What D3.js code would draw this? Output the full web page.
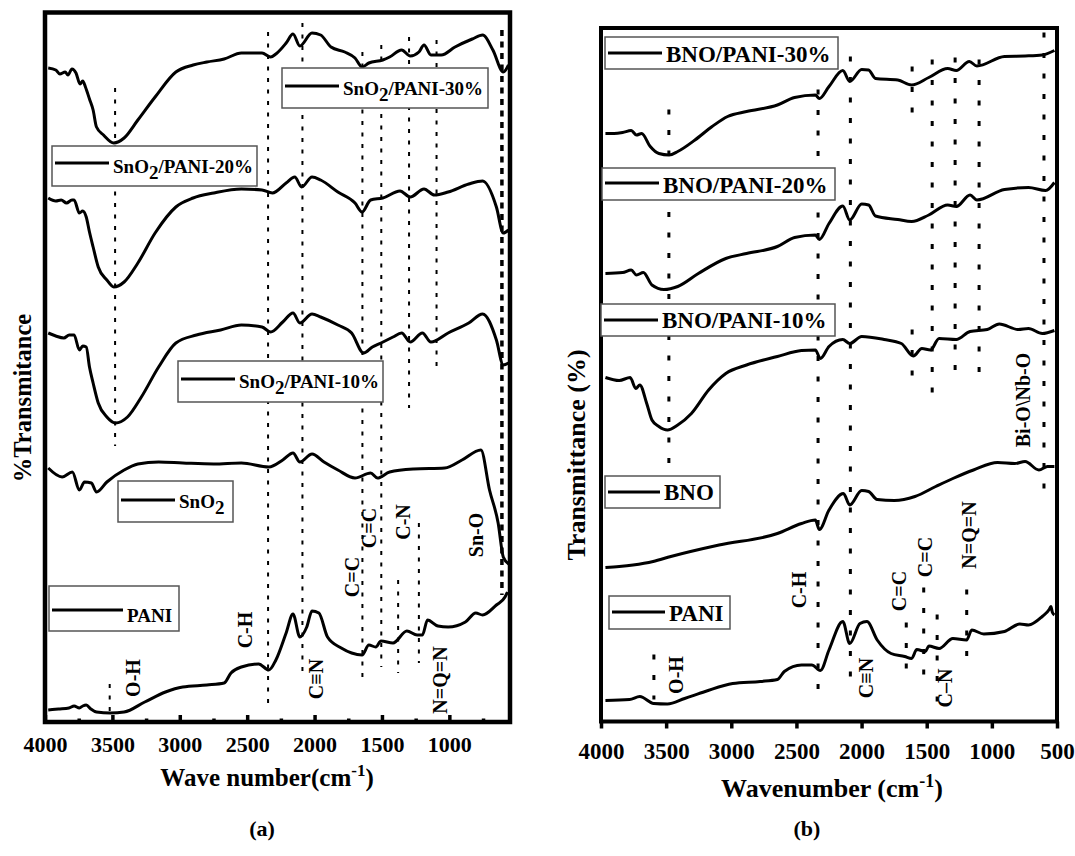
<!DOCTYPE html>
<html>
<head>
<meta charset="utf-8">
<script src="https://cdn.jsdelivr.net/npm/d3@7"></script>
<style>
body{margin:0;background:#fff}
text{font-family:"Liberation Serif","Times New Roman",serif;font-weight:bold;fill:#000}
</style>
</head>
<body>
<script>
// ---- panel (a) spectra: [wavenumber cm-1, transmittance (a.u., stacked)] ----
const snoPani30 = [[3976,65.4],[3920,65.2],[3890,64.8],[3850,65.0],[3830,64.7],[3800,65.3],[3770,64.9],[3740,63.8],[3720,64.1],[3700,63.5],[3670,62.3],[3643,61.2],[3618,59.5],[3566,58.7],[3490,57.9],[3413,58.4],[3311,60.2],[3183,62.5],[3029,65.0],[2901,65.7],[2799,66.0],[2671,66.3],[2543,66.9],[2390,66.9],[2326,66.5],[2287,66.8],[2211,67.9],[2160,68.8],[2109,67.6],[2019,68.9],[1955,68.7],[1878,67.5],[1776,67.0],[1700,66.4],[1648,65.5],[1597,65.9],[1494,66.2],[1443,66.5],[1354,67.2],[1290,66.6],[1226,67.0],[1188,67.7],[1137,66.7],[1060,66.7],[958,67.5],[830,68.3],[753,68.7],[677,67.2],[600,65.0],[561,65.7]];
const snoPani20 = [[3976,52.4],[3920,52.1],[3880,52.2],[3840,51.9],[3800,52.2],[3784,52.2],[3745,50.9],[3720,51.1],[3694,50.5],[3670,49.0],[3643,47.5],[3605,45.5],[3541,44.2],[3490,43.5],[3413,44.0],[3311,45.9],[3183,48.9],[3029,51.5],[2901,52.4],[2748,52.9],[2543,53.3],[2390,53.2],[2313,52.9],[2211,53.9],[2147,54.5],[2096,53.5],[2019,54.5],[1955,54.2],[1827,53.0],[1700,51.9],[1648,51.0],[1584,52.2],[1494,52.4],[1366,53.1],[1290,52.5],[1188,53.3],[1111,52.7],[1009,53.0],[856,53.8],[753,54.1],[651,51.5],[600,48.9],[561,49.2]];
const snoPani10 = [[3976,38.9],[3920,38.6],[3860,38.4],[3820,38.7],[3784,38.7],[3745,37.2],[3720,37.6],[3694,37.5],[3670,35.5],[3643,33.9],[3605,31.9],[3541,30.5],[3477,29.9],[3388,30.5],[3285,32.5],[3157,35.5],[3029,37.9],[2876,38.7],[2697,39.2],[2543,39.7],[2390,39.5],[2326,39.0],[2236,40.0],[2160,40.9],[2109,39.9],[2019,40.8],[1955,40.5],[1827,39.7],[1725,38.9],[1636,36.9],[1571,37.5],[1507,37.9],[1418,38.5],[1354,38.9],[1290,38.0],[1200,38.9],[1137,38.0],[1009,38.9],[856,39.9],[753,40.8],[651,38.2],[600,35.7],[561,35.9]];
const sno2 = [[3976,25.4],[3873,24.5],[3797,25.0],[3745,23.2],[3707,24.0],[3656,23.9],[3618,23.0],[3541,24.0],[3413,25.2],[3311,25.8],[3157,26.0],[2978,25.9],[2748,25.8],[2543,25.9],[2339,25.5],[2236,26.2],[2160,26.9],[2109,26.0],[2019,26.8],[1930,26.0],[1827,25.2],[1700,24.4],[1584,24.9],[1533,24.4],[1443,25.0],[1264,25.3],[1034,25.4],[906,26.2],[766,27.2],[702,23.2],[638,19.9],[600,16.5],[560,15.8]];
const paniA = [[3976,1.2],[3900,1.3],[3822,1.4],[3784,1.6],[3745,1.4],[3720,1.6],[3694,1.7],[3660,1.3],[3618,1.0],[3515,0.9],[3413,1.0],[3260,2.0],[3106,3.0],[2978,3.5],[2799,3.7],[2671,3.9],[2620,4.9],[2543,5.5],[2415,5.8],[2339,5.2],[2287,6.2],[2211,8.9],[2160,10.8],[2109,8.5],[2058,9.5],[2019,11.1],[1968,10.9],[1904,8.5],[1802,7.4],[1725,6.9],[1648,6.7],[1597,7.7],[1546,7.5],[1507,8.1],[1418,7.9],[1315,9.1],[1239,8.7],[1200,8.7],[1162,10.2],[1085,9.6],[1009,9.5],[881,10.0],[804,10.9],[753,10.7],[651,11.7],[587,12.5],[569,13.0]];

// ---- panel (b) spectra ----
const bnoPani30 = [[3966,58.8],[3900,58.8],[3834,58.9],[3768,59.1],[3728,58.65],[3688,58.8],[3622,57.5],[3556,56.8],[3477,56.65],[3411,57.0],[3279,58.15],[3147,59.5],[3028,60.5],[2883,61.0],[2646,61.65],[2514,62.4],[2355,62.65],[2324,62.3],[2250,63.5],[2144,65.1],[2091,64.0],[1999,65.2],[1946,65.15],[1893,64.3],[1722,64.15],[1616,63.65],[1484,64.4],[1339,65.3],[1273,65.1],[1173,66.0],[1115,65.55],[903,66.5],[745,66.55],[613,66.65],[520,67.1]];
const bnoPani20 = [[3966,44.8],[3834,44.9],[3768,45.15],[3728,44.65],[3675,44.9],[3609,43.65],[3517,43.2],[3411,43.5],[3253,44.8],[3042,46.3],[2883,46.8],[2646,47.5],[2514,48.4],[2355,48.65],[2324,48.2],[2250,49.8],[2144,51.55],[2091,50.15],[1999,51.75],[1946,51.65],[1893,50.55],[1722,50.2],[1616,50.0],[1484,50.65],[1339,51.65],[1273,51.5],[1167,52.65],[1115,52.15],[903,53.2],[719,53.4],[587,53.1],[520,53.9]];
const bnoPani10 = [[3966,34.4],[3860,34.1],[3776,34.4],[3733,33.3],[3702,33.65],[3649,31.8],[3609,30.15],[3556,29.5],[3490,29.15],[3411,29.65],[3306,30.8],[3174,33.15],[3042,34.8],[2883,35.65],[2646,36.5],[2461,37.1],[2355,37.15],[2316,36.3],[2250,37.5],[2144,38.2],[2091,37.8],[1999,38.5],[1827,38.2],[1695,37.8],[1603,36.55],[1537,37.3],[1471,37.15],[1405,38.3],[1273,38.2],[1167,39.0],[1035,39.2],[943,39.75],[798,39.2],[719,39.3],[613,38.8],[520,39.1]];
const bno = [[3966,15.4],[3860,15.5],[3754,15.65],[3600,16.0],[3464,16.5],[3094,17.65],[2646,18.8],[2461,19.8],[2355,20.15],[2324,19.2],[2250,21.15],[2139,22.8],[2091,21.65],[1999,23.1],[1946,23.0],[1880,22.2],[1748,22.1],[1590,22.5],[1431,23.5],[1299,24.3],[1141,25.15],[956,25.9],[824,25.8],[745,26.0],[639,25.15],[573,25.5],[520,25.5]];
const paniB = [[3966,2.1],[3781,2.2],[3702,2.5],[3596,1.8],[3490,1.75],[3358,2.3],[3200,3.0],[2989,3.8],[2778,4.0],[2646,4.2],[2593,5.0],[2461,5.65],[2382,5.65],[2316,5.1],[2250,7.15],[2144,10.0],[2091,7.8],[2012,9.8],[1959,10.0],[1880,8.15],[1774,6.8],[1669,6.5],[1616,6.3],[1576,7.2],[1510,7.0],[1484,7.55],[1405,7.3],[1299,8.3],[1194,8.15],[1154,9.15],[1062,8.75],[903,9.0],[785,9.75],[719,9.65],[613,10.5],[560,11.2],[547,11.5],[535,10.9],[520,10.65]];

// peak marker lines: [wavenumber, from, to] in transmittance units
const peaksA = [[3480,63.4,27.6],[2345,69.0,1.4],[2090,69.9,4.7],[1645,67.0,3.9],[1505,67.7,5.5],[1299,68.5,31.4],[1095,68.2,34.9],[1380,14.2,4.9],[1226,19.9,5.9],[3520,3.8,1.0]];
const peakSnO = [[610,69.2,12.7]];
const peaksB = [[3479,61.2,25.2],[2334,63.2,2.2],[2086,66.5,3.5],[1612,65.5,60.9],[1612,39.2,34.5],[1657,9.9,5.2],[1458,66.2,32.5],[1523,13.4,4.5],[1420,10.7,1.5],[1282,66.4,34.9],[1098,66.2,34.5],[600,68.9,22.5],[3594,6.7,2.2],[1193,13.2,6.5]];

// band labels: [text, wavenumber, transmittance at label centre]
const bandsA = [["O-H",3347,4.4],["C-H",2516,9.2],["C\u2261N",1993,4.3],["C=C",1722,14.5],["C=C",1596,19.4],["C-N",1344,20.0],["Sn-O",802,18.7],["N=Q=N",1069,4.2]];
const bandsB = [["O-H",3424,4.65],["C-H",2484,13.15],["C\u2261N",1966,4.35],["C=C",1716,13.05],["C=C",1513,16.45],["C\u2013N",1360,3.35],["N=Q=N",1176,18.65],["Bi-O\\Nb-O",761,32.15]];

const ticksA = [4000,3500,3000,2500,2000,1500,1000];
const minorA = [3750,3250,2750,2250,1750,1250,750];
const ticksB = [4000,3500,3000,2500,2000,1500,1000,500];

const svg = d3.select("body").append("svg")
  .attr("width", 1075).attr("height", 856);

// ---------------- panel (a) ----------------
const xA = d3.scaleLinear().domain([4000, 550]).range([45, 510]);
const yA = d3.scaleLinear().domain([0, 71]).range([722, 12]);

const lineA = d3.line().x(d => xA(d[0])).y(d => yA(d[1])).curve(d3.curveMonotoneX);

const gA = svg.append("g");

gA.selectAll("line.peak").data(peaksA).enter().append("line")
  .attr("class","peak")
  .attr("x1", d => xA(d[0])).attr("x2", d => xA(d[0]))
  .attr("y1", d => yA(d[1])).attr("y2", d => yA(d[2]))
  .attr("stroke","#000").attr("stroke-width",2).attr("stroke-dasharray","4,7.5");

gA.selectAll("line.sno").data(peakSnO).enter().append("line")
  .attr("class","sno")
  .attr("x1", d => xA(d[0])).attr("x2", d => xA(d[0]))
  .attr("y1", d => yA(d[1])).attr("y2", d => yA(d[2]))
  .attr("stroke","#000").attr("stroke-width",3.5).attr("stroke-dasharray","6,5.5");

[snoPani30, snoPani20, snoPani10, sno2, paniA].forEach(s => {
  gA.append("path").datum(s)
    .attr("d", lineA)
    .attr("fill","none").attr("stroke","#000")
    .attr("stroke-width",3).attr("stroke-linejoin","round");
});

gA.selectAll("text.band").data(bandsA).enter().append("text")
  .attr("class","band")
  .attr("transform", d => "translate(" + xA(d[1]) + "," + yA(d[2]) + ") rotate(-90)")
  .attr("text-anchor","middle").attr("dy","0.35em")
  .style("font-size","20px")
  .text(d => d[0]);

// axes
const axA = d3.axisBottom(xA).tickValues(ticksA).tickFormat(d3.format("d"))
  .tickSizeInner(-7).tickSizeOuter(0).tickPadding(14);
gA.append("g").attr("transform","translate(0,722)").call(axA)
  .call(g => g.select(".domain").remove())
  .call(g => g.selectAll(".tick line").attr("stroke-width",3.5))
  .call(g => g.selectAll(".tick text").style("font-size","22px").style("font-family","Liberation Serif").style("font-weight","bold"));
gA.append("g").attr("transform","translate(0,722)")
  .call(d3.axisBottom(xA).tickValues(minorA).tickSize(-3.5).tickFormat(""))
  .call(g => g.select(".domain").remove())
  .call(g => g.selectAll(".tick line").attr("stroke-width",3.5));

gA.append("rect")
  .attr("x",45).attr("y",12.5).attr("width",465).attr("height",709.5)
  .attr("fill","none").attr("stroke","#000").attr("stroke-width",4.5);

// legends (a)
const legA = [
  {x:282, y:68, w:206, h:40, ly:18, ty:27, lw:54, parts:["SnO","2","/PANI-30%"]},
  {x:52, y:146, w:205, h:40, ly:17, ty:27, lw:54, parts:["SnO","2","/PANI-20%"]},
  {x:178, y:361, w:205, h:41, ly:18, ty:27, lw:54, parts:["SnO","2","/PANI-10%"]},
  {x:118, y:481, w:115, h:41, ly:19, ty:27, lw:54, parts:["SnO","2",""]},
  {x:49, y:586, w:130, h:45, ly:24, ty:36, lw:71, parts:["PANI","",""]}
];

function drawLegend(g, list, size) {
  list.forEach(l => {
    const lg = g.append("g").attr("transform","translate(" + l.x + "," + l.y + ")");
    lg.append("rect").attr("width",l.w).attr("height",l.h)
      .attr("fill","#fff").attr("stroke","#555").attr("stroke-width",1.5);
    lg.append("line").attr("x1",3).attr("x2",3 + l.lw).attr("y1",l.ly).attr("y2",l.ly)
      .attr("stroke","#000").attr("stroke-width",3);
    const t = lg.append("text").attr("x",l.lw + 7).attr("y",l.ty).style("font-size",size + "px");
    t.append("tspan").text(l.parts[0]);
    if (l.parts[1]) {
      t.append("tspan").attr("dy",6).text(l.parts[1]);
      if (l.parts[2]) t.append("tspan").attr("dy",-6).text(l.parts[2]);
    }
  });
}
drawLegend(gA, legA, 19);

gA.append("text")
  .attr("transform","translate(31,398) rotate(-90)")
  .attr("text-anchor","middle")
  .style("font-size","24.5px")
  .text("%Transmitance");

const xtA = gA.append("text").attr("x",267).attr("y",786).attr("text-anchor","middle").style("font-size","25px");
xtA.append("tspan").text("Wave number(cm");
xtA.append("tspan").attr("dy",-10).style("font-size","17px").text("-1");
xtA.append("tspan").attr("dy",10).text(")");

gA.append("text").attr("x",262).attr("y",836).attr("text-anchor","middle")
  .style("font-size","22px").text("(a)");

// ---------------- panel (b) ----------------
const xB = d3.scaleLinear().domain([4000, 500]).range([601, 1057]);
const yB = d3.scaleLinear().domain([0, 69.35]).range([721.5, 28]);

const lineB = d3.line().x(d => xB(d[0])).y(d => yB(d[1])).curve(d3.curveMonotoneX);

const gB = svg.append("g");

gB.selectAll("line.peak").data(peaksB).enter().append("line")
  .attr("class","peak")
  .attr("x1", d => xB(d[0])).attr("x2", d => xB(d[0]))
  .attr("y1", d => yB(d[1])).attr("y2", d => yB(d[2]))
  .attr("stroke","#000").attr("stroke-width",3).attr("stroke-dasharray","5,15.5");

[bnoPani30, bnoPani20, bnoPani10, bno, paniB].forEach(s => {
  gB.append("path").datum(s)
    .attr("d", lineB)
    .attr("fill","none").attr("stroke","#000")
    .attr("stroke-width",3).attr("stroke-linejoin","round");
});

gB.selectAll("text.band").data(bandsB).enter().append("text")
  .attr("class","band")
  .attr("transform", d => "translate(" + xB(d[1]) + "," + yB(d[2]) + ") rotate(-90)")
  .attr("text-anchor","middle").attr("dy","0.35em")
  .style("font-size","20px")
  .text(d => d[0]);

const axB = d3.axisBottom(xB).tickValues(ticksB).tickFormat(d3.format("d"))
  .tickSize(7).tickPadding(14);
gB.append("g").attr("transform","translate(0,721.5)").call(axB)
  .call(g => g.select(".domain").remove())
  .call(g => g.selectAll(".tick line").attr("stroke-width",3.5))
  .call(g => g.selectAll(".tick text").style("font-size","23px").style("font-family","Liberation Serif").style("font-weight","bold"));

gB.append("rect")
  .attr("x",601).attr("y",28).attr("width",456).attr("height",693.5)
  .attr("fill","none").attr("stroke","#000").attr("stroke-width",4);

const legB = [
  {x:605, y:37, w:233, h:32, ly:16, ty:25, lw:54, parts:["BNO/PANI-30%","",""]},
  {x:602, y:168, w:233, h:32, ly:15, ty:25, lw:54, parts:["BNO/PANI-20%","",""]},
  {x:601, y:304, w:234, h:32, ly:16, ty:24, lw:54, parts:["BNO/PANI-10%","",""]},
  {x:605, y:476, w:115, h:32, ly:16, ty:24, lw:52, parts:["BNO","",""]},
  {x:609, y:596, w:121, h:33, ly:16, ty:25, lw:53, parts:["PANI","",""]}
];
drawLegend(gB, legB, 23);

gB.append("text")
  .attr("transform","translate(585,455) rotate(-90)")
  .attr("text-anchor","middle")
  .style("font-size","26px")
  .text("Transmittance (%)");

const xtB = gB.append("text").attr("x",832).attr("y",797).attr("text-anchor","middle").style("font-size","26px");
xtB.append("tspan").text("Wavenumber (cm");
xtB.append("tspan").attr("dy",-10).style("font-size","18px").text("-1");
xtB.append("tspan").attr("dy",10).text(")");

gB.append("text").attr("x",807).attr("y",836).attr("text-anchor","middle")
  .style("font-size","22px").text("(b)");
</script>
</body>
</html>
